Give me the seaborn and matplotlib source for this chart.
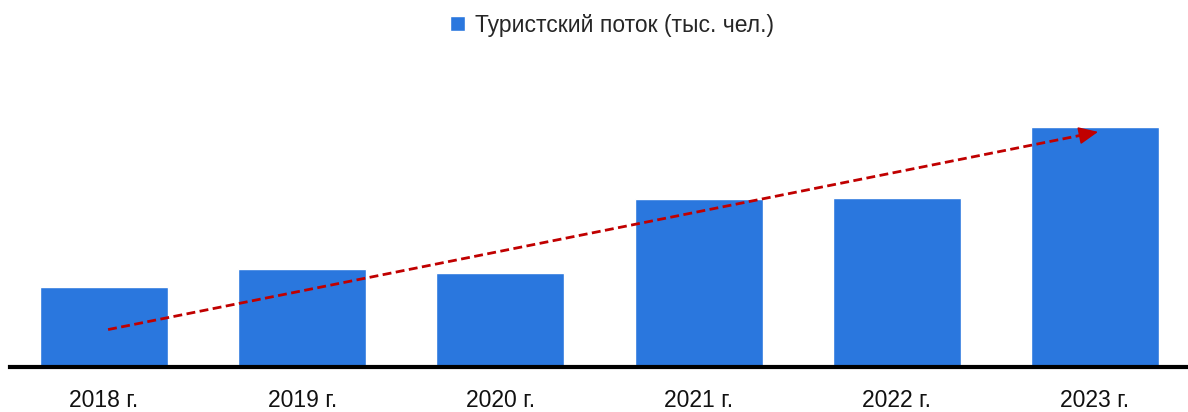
import matplotlib
matplotlib.use("Agg")
import matplotlib.pyplot as plt
import seaborn as sns
import pandas as pd
from matplotlib import font_manager

years = ["2018 г.", "2019 г.", "2020 г.", "2021 г.", "2022 г.", "2023 г."]
values = [790, 970, 930, 1660, 1670, 2370]
series_name = "Туристский поток (тыс. чел.)"

sns.set_theme(style="white")
names = {f.name for f in font_manager.fontManager.ttflist}
fam = [f for f in ["Liberation Sans Narrow", "Liberation Sans", "DejaVu Sans"] if f in names]
plt.rcParams["font.family"] = fam

df = pd.DataFrame({"year": years, "value": values, "series": series_name})

fig = plt.figure(figsize=(11.88, 4.12), dpi=100)
ax = fig.add_axes([10/1188, 45/412, 1 - 10/1188, (367-60)/412])

sns.barplot(data=df, x="year", y="value", hue="series", palette=["#2A77DE"],
            width=0.646, saturation=1, ax=ax, legend=True)

ax.set_xlim(-0.475, 5.47)
ax.set_ylim(0, 3035)
ax.set_xlabel("")
ax.set_ylabel("")
ax.set_yticks([])
for s in ["top", "right", "left"]:
    ax.spines[s].set_visible(False)
ax.spines["bottom"].set_color("black")
ax.spines["bottom"].set_linewidth(3)
ax.tick_params(axis="x", length=0, pad=16, labelsize=16.5, colors="#111111")

# trend arrow
x0, y0 = 0.02, 370
x1, y1 = 5.03, 2330
slope = (y1 - y0) / (x1 - x0)
ax.plot([x0, x1 - 0.06], [y0, y1 - slope * 0.06], ls=(0, (3.2, 1.6)),
        color="#C00000", lw=2)
ax.annotate("", xy=(x1, y1), xytext=(x1 - 0.1, y1 - slope * 0.1),
            arrowprops=dict(arrowstyle="-|>,head_length=0.6,head_width=0.27",
                            color="#C00000", lw=1.2, mutation_scale=20))

leg = ax.legend(loc="upper center", bbox_to_anchor=(0.5 + 13/1178, 1 + 67/307), frameon=False,
                fontsize=16.5, handlelength=0.65, handleheight=0.65, handletextpad=0.45)

fig.savefig("out.png", dpi=100)
